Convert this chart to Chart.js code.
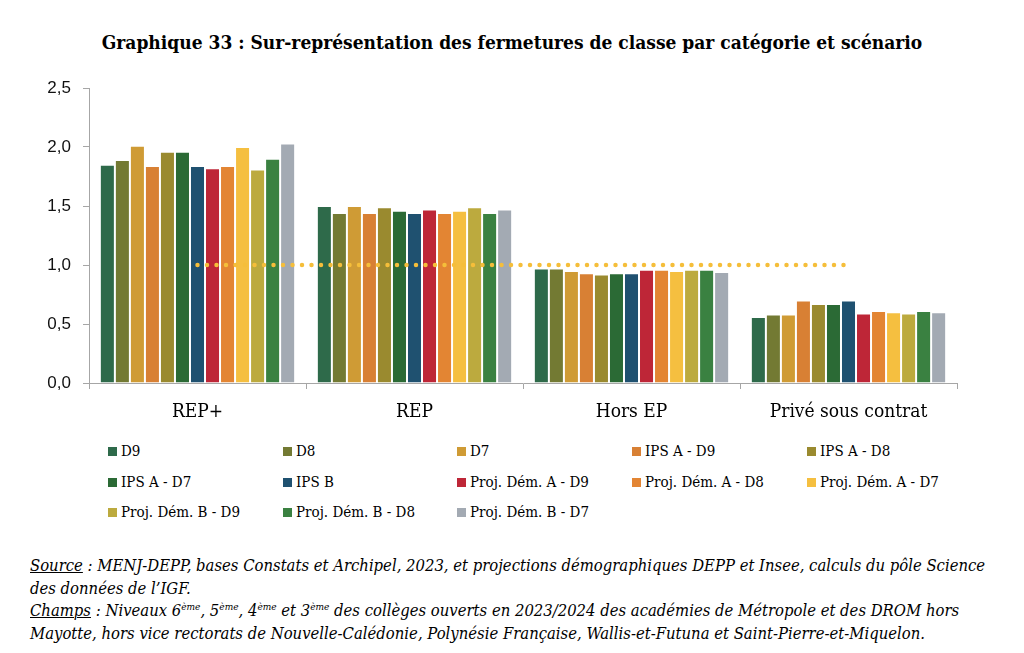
<!DOCTYPE html>
<html lang="fr">
<head>
<meta charset="utf-8">
<script src="https://cdn.jsdelivr.net/npm/chart.js@4.4.1/dist/chart.umd.min.js"></script>
<style>
  body { margin:0; background:#fff; width:1024px; height:653px; position:relative; overflow:hidden; font-family:'DejaVu Serif Condensed', 'Liberation Serif', serif; color:#000; }
  #title { position:absolute; top:30px; left:0; width:1024px; text-align:center; font-weight:bold; font-size:19px; line-height:24px; }
  #wrap { position:absolute; left:0; top:60px; width:1024px; height:372px; }
  #legend { position:absolute; left:0; top:0; }
  .li { position:absolute; white-space:nowrap; font-size:15px; line-height:20px; }
  .li i { display:inline-block; width:9px; height:9px; margin-right:4px; vertical-align:0px; }
  #notes { position:absolute; left:30px; top:555px; font-style:italic; font-size:16.5px; line-height:22.5px; white-space:nowrap; }
  #notes u { text-decoration-thickness:1px; }
  #notes sup { font-size:10px; vertical-align:6px; line-height:0; }
</style>
</head>
<body>
<div id="title">Graphique 33 : Sur-représentation des fermetures de classe par catégorie et scénario</div>
<div id="wrap"><canvas id="chart"></canvas></div>
<div id="legend"></div>
<div id="notes">
  <div><u>Source</u> : MENJ-DEPP, bases Constats et Archipel, 2023, et projections démographiques DEPP et Insee, calculs du pôle Science</div>
  <div>des données de l’IGF.</div>
  <div><u>Champs</u> : Niveaux 6<sup>ème</sup>, 5<sup>ème</sup>, 4<sup>ème</sup> et 3<sup>ème</sup> des collèges ouverts en 2023/2024 des académies de Métropole et des DROM hors</div>
  <div>Mayotte, hors vice rectorats de Nouvelle-Calédonie, Polynésie Française, Wallis-et-Futuna et Saint-Pierre-et-Miquelon.</div>
</div>
<script>
/* ── DATA ── */
const CATEGORIES = ['REP+', 'REP', 'Hors EP', 'Privé sous contrat'];
const SERIES = ['D9', 'D8', 'D7', 'IPS A - D9', 'IPS A - D8', 'IPS A - D7', 'IPS B',
  'Proj. Dém. A - D9', 'Proj. Dém. A - D8', 'Proj. Dém. A - D7',
  'Proj. Dém. B - D9', 'Proj. Dém. B - D8', 'Proj. Dém. B - D7'];
const COLORS = ['#2e6a4a', '#737a33', '#cf9b35', '#d88034', '#9a8a2f', '#2b6a35', '#1f5170',
  '#be2637', '#e38533', '#f5bf40', '#bcaa3e', '#3a8141', '#a3aab3'];

// one value per series, in SERIES order
const REP_PLUS = [1.85, 1.89, 2.01, 1.84, 1.96, 1.96, 1.84, 1.82, 1.84, 2.00, 1.81, 1.90, 2.03];
const REP      = [1.50, 1.44, 1.50, 1.44, 1.49, 1.46, 1.44, 1.47, 1.44, 1.46, 1.49, 1.44, 1.47];
const HORS_EP  = [0.97, 0.97, 0.95, 0.93, 0.92, 0.93, 0.93, 0.96, 0.96, 0.95, 0.96, 0.96, 0.94];
const PRIVE    = [0.56, 0.58, 0.58, 0.70, 0.67, 0.67, 0.70, 0.59, 0.61, 0.60, 0.59, 0.61, 0.60];
const REFERENCE = [1, 1, 1, 1];

const Y_TICKS = [0, 0.5, 1, 1.5, 2, 2.5];

/* ── CHART ── */
const byCategory = [REP_PLUS, REP, HORS_EP, PRIVE];

const barSets = SERIES.map((name, i) => ({
  type: 'bar',
  label: name,
  data: byCategory.map(arr => arr[i]),
  backgroundColor: COLORS[i],
  borderColor: 'rgba(255,255,255,0.35)',
  borderWidth: 1,
  categoryPercentage: 0.9,
  barPercentage: 1,
  order: 1
}));

const refLine = {
  type: 'line',
  label: 'ref',
  data: REFERENCE,
  borderColor: '#f5be3a',
  borderWidth: 4.5,
  borderDash: [0, 9.5],
  borderCapStyle: 'round',
  pointRadius: 0,
  fill: false,
  order: 0
};

new Chart(document.getElementById('chart'), {
  data: { labels: CATEGORIES, datasets: [refLine, ...barSets] },
  options: {
    responsive: true,
    maintainAspectRatio: false,
    animation: false,
    layout: { padding: { top: 28, right: 67, left: 0, bottom: 0 } },
    plugins: { legend: { display: false }, tooltip: { enabled: false } },
    scales: {
      x: {
        offset: true,
        grid: { offset: true, drawOnChartArea: false, tickLength: 6, color: '#a6a6a6' },
        border: { color: '#a6a6a6', width: 1 },
        ticks: { color: '#000', padding: 12, font: { family: "'DejaVu Serif Condensed', 'Liberation Serif', serif", size: 19 } },
        afterFit: s => { s.height = 49; }
      },
      y: {
        min: 0, max: 2.5,
        afterBuildTicks: s => { s.ticks = Y_TICKS.map(v => ({ value: v })); },
        grid: { drawOnChartArea: false, tickLength: 6, color: '#a6a6a6' },
        border: { color: '#a6a6a6', width: 1 },
        ticks: {
          color: '#111', padding: 12,
          font: { family: "'Liberation Sans', sans-serif", size: 17 },
          callback: v => v.toFixed(1).replace('.', ',')
        },
        afterFit: s => { s.width = 89; }
      }
    }
  }
});

/* ── LEGEND ── */
const LEG_X = [108, 283, 457, 632, 807];
const LEG_Y = [441, 471.5, 502];
document.getElementById('legend').innerHTML = SERIES.map((name, i) => {
  const col = i % 5, row = Math.floor(i / 5);
  return `<div class="li" style="left:${LEG_X[col]}px;top:${LEG_Y[row]}px"><i style="background:${COLORS[i]}"></i>${name}</div>`;
}).join('');
</script>
</body>
</html>
